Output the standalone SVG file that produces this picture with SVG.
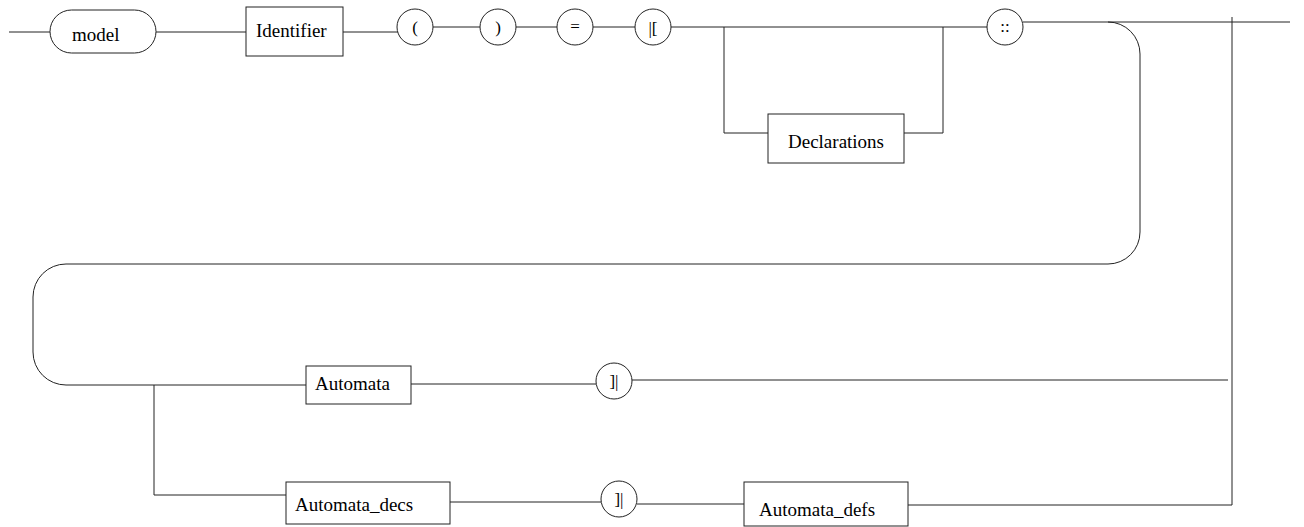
<svg xmlns="http://www.w3.org/2000/svg" width="1304" height="527" viewBox="0 0 1304 527">
<style>
.ln{fill:none;stroke:#222;stroke-width:1}
.bx{fill:#fff;stroke:#222;stroke-width:1}
.t{font-size:19px;fill:#000}
.ct{font-size:17px;fill:#000;text-anchor:middle}
</style>
<rect width="1304" height="527" fill="#fff"/>
<g id="connectors" class="ln">
<path d="M9 32H50"/>
<path d="M156 32H246"/>
<path d="M343 32H398"/>
<path d="M433 27H480"/>
<path d="M516 27H557"/>
<path d="M593 27H635"/>
<path d="M671 27H987"/>
<path d="M724 27V133H768"/>
<path d="M904 133H943V27"/>
<path d="M1023 22H1290"/>
<path d="M1232 17V505"/>
<path d="M1108 22A32 32 0 0 1 1140 54V232A32 32 0 0 1 1108 264H66A33 33 0 0 0 33 297V352A33 33 0 0 0 66 385H306"/>
<path d="M411 384H596"/>
<path d="M632 380H1228"/>
<path d="M154 385V495H286"/>
<path d="M450 502H601"/>
<path d="M637 504H744"/>
<path d="M908 505H1232"/>
</g>
<g font-family="'Liberation Serif', 'DejaVu Serif', serif">
<g id="n-model"><rect class="bx" x="50" y="10" width="106" height="43" rx="21.5"/><text class="t" x="72" y="41">model</text></g>
<g id="n-identifier"><rect class="bx" x="246" y="7" width="97" height="49"/><text class="t" x="256" y="37">Identifier</text></g>
<g id="n-lparen"><circle class="bx" cx="415" cy="27" r="18"/><text class="ct" x="415" y="33">(</text></g>
<g id="n-rparen"><circle class="bx" cx="498" cy="27" r="18"/><text class="ct" x="498" y="33">)</text></g>
<g id="n-eq"><circle class="bx" cx="575" cy="27" r="18"/><text class="ct" x="575" y="32">=</text></g>
<g id="n-open"><circle class="bx" cx="653" cy="27" r="18"/><text class="ct" x="653" y="34">|[</text></g>
<g id="n-declarations"><rect class="bx" x="768" y="114" width="136" height="49"/><text class="t" x="788" y="148">Declarations</text></g>
<g id="n-colons"><circle class="bx" cx="1005" cy="27" r="18"/><text class="ct" x="1005" y="32">::</text></g>
<g id="n-automata"><rect class="bx" x="306" y="366" width="105" height="38"/><text class="t" x="315" y="390">Automata</text></g>
<g id="n-close1"><circle class="bx" cx="614" cy="381" r="18"/><text class="ct" x="614" y="387">]|</text></g>
<g id="n-automata-decs"><rect class="bx" x="286" y="482" width="164" height="42"/><text class="t" x="295" y="511">Automata_decs</text></g>
<g id="n-close2"><circle class="bx" cx="619" cy="499" r="18"/><text class="ct" x="619" y="505">]|</text></g>
<g id="n-automata-defs"><rect class="bx" x="744" y="482" width="164" height="44"/><text class="t" x="759" y="516">Automata_defs</text></g>
</g>
</svg>
